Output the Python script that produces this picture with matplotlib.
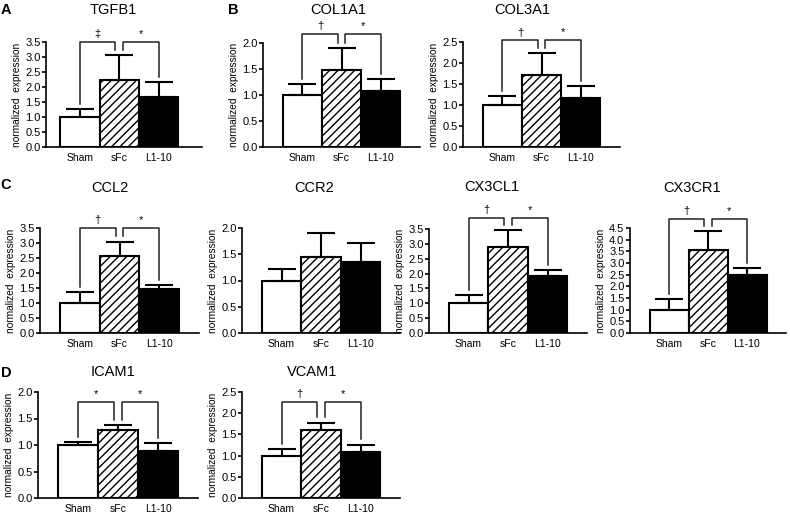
import numpy as np
import matplotlib
matplotlib.use('Agg')
import matplotlib.pyplot as plt

plt.rcParams['font.family'] = ['Liberation Sans', 'DejaVu Sans']
plt.rcParams['hatch.linewidth'] = 1.0

# data
groups = ['Sham', 'sFc', 'L1-10']
genes = ['TGFB1', 'COL1A1', 'COL3A1', 'CCL2', 'CCR2', 'CX3CL1', 'CX3CR1', 'ICAM1', 'VCAM1']

tgfb1_mean = [1.0, 2.22, 1.67]
tgfb1_err = [0.27, 0.85, 0.48]
col1a1_mean = [1.0, 1.49, 1.08]
col1a1_err = [0.22, 0.41, 0.22]
col3a1_mean = [1.0, 1.72, 1.16]
col3a1_err = [0.22, 0.52, 0.30]
ccl2_mean = [1.0, 2.56, 1.47]
ccl2_err = [0.36, 0.49, 0.14]
ccr2_mean = [1.0, 1.45, 1.36]
ccr2_err = [0.21, 0.46, 0.35]
cx3cl1_mean = [1.0, 2.90, 1.92]
cx3cl1_err = [0.27, 0.56, 0.19]
cx3cr1_mean = [1.0, 3.57, 2.48]
cx3cr1_err = [0.44, 0.80, 0.30]
icam1_mean = [1.0, 1.28, 0.88]
icam1_err = [0.05, 0.10, 0.16]
vcam1_mean = [1.0, 1.61, 1.08]
vcam1_err = [0.16, 0.17, 0.18]

means = [tgfb1_mean, col1a1_mean, col3a1_mean, ccl2_mean, ccr2_mean,
         cx3cl1_mean, cx3cr1_mean, icam1_mean, vcam1_mean]
errs = [tgfb1_err, col1a1_err, col3a1_err, ccl2_err, ccr2_err,
        cx3cl1_err, cx3cr1_err, icam1_err, vcam1_err]
ymax = [3.5, 2.0, 2.5, 3.5, 2.0, 3.5, 4.5, 2.0, 2.5]

# significance brackets: (height, Sham-vs-sFc symbol, sFc-vs-L1-10 symbol)
sig = [(3.5, '‡', '*'), (2.18, '†', '*'), (2.54, '†', '*'), (3.5, '†', '*'), None,
       (3.87, '†', '*'), (4.89, '†', '*'), (1.82, '*', '*'), (2.26, '†', '*')]

# layout in pixels: left, right, x-axis y, top of y-axis
W, H = 790, 513
boxes = [(46, 202, 147, 42), (263, 420, 147, 43), (463, 620, 147, 42),
         (40, 199, 333, 228), (242, 400, 333, 228), (429, 587, 333, 229), (630, 786, 333, 228),
         (38, 198, 498, 392), (242, 400, 498, 392)]
xlims = [(-0.86, 3.1)] + [(-1.0, 3.0)] * 8
title_pos = [(113, 10), (338, 10), (522, 10), (110, 188), (314, 188), (492, 187), (692, 188),
             (113, 372), (312, 372)]
letters = [('A', 6, 10), ('B', 233, 10), ('C', 6, 185), ('D', 6, 373)]

fig = plt.figure(figsize=(7.9, 5.13), dpi=100)
x = np.arange(3)

for k, g in enumerate(genes):
    l, r, b, t = boxes[k]
    ax = fig.add_axes([l / W, 1 - b / H, (r - l) / W, (b - t) / H])
    m = np.array(means[k])
    e = np.array(errs[k])
    bars = ax.bar(x, m, width=1.0, color=['white', 'white', 'black'],
                  edgecolor='black', linewidth=1.5, zorder=2)
    bars[1].set_hatch('////')
    ax.errorbar(x, m, yerr=[np.zeros(3), e], fmt='none', ecolor='black',
                elinewidth=1.5, capsize=10, capthick=1.5, zorder=3)
    ax.set_xlim(*xlims[k])
    ax.set_ylim(0, ymax[k])
    ax.set_yticks(np.arange(0, ymax[k] + 0.01, 0.5))
    ax.set_yticklabels(['%.1f' % v for v in np.arange(0, ymax[k] + 0.01, 0.5)])
    ax.set_xticks(x)
    ax.set_xticklabels(groups)
    ax.tick_params(axis='x', length=0, labelsize=7.5, pad=4)
    ax.tick_params(axis='y', direction='out', length=3, width=1.2, labelsize=8, pad=1)
    for s in ['top', 'right']:
        ax.spines[s].set_visible(False)
    for s in ['left', 'bottom']:
        ax.spines[s].set_linewidth(1.2)
    ax.set_ylabel('normalized  expression', fontsize=7.3, labelpad=2)

    if sig[k] is not None:
        top, s1, s2 = sig[k]
        pad = 0.048 * ymax[k]
        cap = m + e
        for (i, j, xa, xb, sym) in [(0, 1, 0.0, 0.9, s1), (1, 2, 1.1, 2.0, s2)]:
            ax.plot([xa, xa, xb, xb], [cap[i] + pad, top, top, cap[j] + pad],
                    color='#222222', lw=1.1, clip_on=False, zorder=4)
            ax.annotate(sym, xy=((xa + xb) / 2, top), xytext=(0, 2),
                        textcoords='offset points', ha='center', va='bottom',
                        fontsize=8, annotation_clip=False)

    tx, ty = title_pos[k]
    fig.text(tx / W, 1 - ty / H, g, ha='center', va='center', fontsize=10.5)

for lab, lx, ly in letters:
    fig.text(lx / W, 1 - ly / H, lab, ha='center', va='center', fontsize=10.5, fontweight='bold')

fig.savefig('out.png', dpi=100)
